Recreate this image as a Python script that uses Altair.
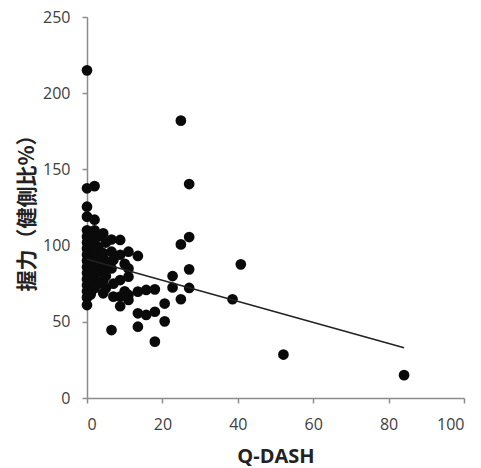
import altair as alt
import pandas as pd

# Q-DASH score per patient and grip strength as % of the healthy side
qdash = [
    0, 0, 0, 0, 0, 0, 0, 0, 0, 0, 0, 0, 0, 0, 0, 0, 0,
    1, 1, 1, 1, 1, 1,
    2, 2, 2, 2, 2, 2, 2, 2,
    3, 3, 3, 3, 3,
    4.3, 4.3, 4.3, 4.3, 4.3,
    5, 5, 5, 5,
    6.5, 6.5, 6.5, 6.5,
    7, 7, 7,
    8.8, 8.8, 8.8, 8.8, 8.8,
    10, 10,
    11, 11, 11, 11, 11,
    13.5, 13.5, 13.5, 13.5,
    15.7, 15.7,
    18, 18, 18,
    20.6, 20.6,
    22.7, 22.7,
    24.9, 24.9, 24.9,
    27.1, 27.1, 27.1, 27.1,
    38.6, 40.8, 52.1, 84.1,
]
grip = [
    215, 137.6, 125.5, 119, 110, 106, 102, 98, 94, 90, 86, 82, 78, 74, 70, 66, 61,
    108, 100, 92, 84, 76, 68,
    139, 117, 110, 104, 96, 88, 80, 72,
    106, 99, 91, 83, 75,
    108, 95, 86, 77, 68.7,
    102, 90, 80, 72,
    104, 96, 85, 44.6,
    90.5, 75, 66.5,
    103.7, 94, 77.4, 66.5, 60.2,
    88, 70,
    96, 85, 79.6, 67.6, 64.3,
    93.2, 69.8, 55.6, 46.8,
    70.9, 54.5,
    71.3, 56.6, 37,
    62, 50.3,
    80, 72.5,
    182, 100.8, 64.8,
    140.4, 105.6, 84.4, 72.2,
    64.8, 87.7, 28.5, 15,
]

# Linear trend line end points (y = 91 - 0.69x over the observed range)
trend_x = [0, 84.1]
trend_y = [91.0, 33.0]

points = pd.DataFrame({"qdash": qdash, "grip": grip})
trend = pd.DataFrame({"qdash": trend_x, "grip": trend_y})

font = "Open Sans"
axis_gray = "#8c8c8c"
label_gray = "#404040"

x_scale = alt.Scale(domain=[0, 100], nice=False, zero=True)
y_scale = alt.Scale(domain=[0, 250], nice=False, zero=True)

x_axis = alt.Axis(
    values=[0, 20, 40, 60, 80, 100], grid=False,
    domainColor=axis_gray, domainWidth=1.5, tickColor=axis_gray, tickWidth=1.5, tickSize=5,
    labelFont=font, labelFontSize=16, labelColor=label_gray, labelPadding=13,
    title="Q-DASH", titleFont=font, titleFontSize=20, titleFontWeight="bold",
    titleColor="#222222", titlePadding=14,
)
y_axis = alt.Axis(
    values=[0, 50, 100, 150, 200, 250], grid=False,
    domainColor=axis_gray, domainWidth=1.5, tickColor=axis_gray, tickWidth=1.5, tickSize=5,
    labelFont=font, labelFontSize=16, labelColor=label_gray, labelPadding=12,
    title="握力（健側比%）", titleFont="Noto Sans CJK JP", titleFontSize=21,
    titleFontWeight="bold", titleColor="#222222", titlePadding=5,
)

scatter = alt.Chart(points).mark_circle(size=115, color="#0a0a0a", opacity=1).encode(
    x=alt.X("qdash:Q", scale=x_scale, axis=x_axis),
    y=alt.Y("grip:Q", scale=y_scale, axis=y_axis),
)

line = alt.Chart(trend).mark_line(color="#222222", strokeWidth=1.6).encode(
    x=alt.X("qdash:Q", scale=x_scale),
    y=alt.Y("grip:Q", scale=y_scale),
)

chart = (
    alt.layer(scatter, line)
    .properties(
        width=377, height=381,
        autosize=alt.AutoSizeParams(type="none"),
        padding={"left": 87, "top": 17, "right": 17, "bottom": 70},
        background="white",
    )
    .configure_view(stroke=None)
)

chart.save("out.html", embed_options={"renderer": "svg", "actions": False})
